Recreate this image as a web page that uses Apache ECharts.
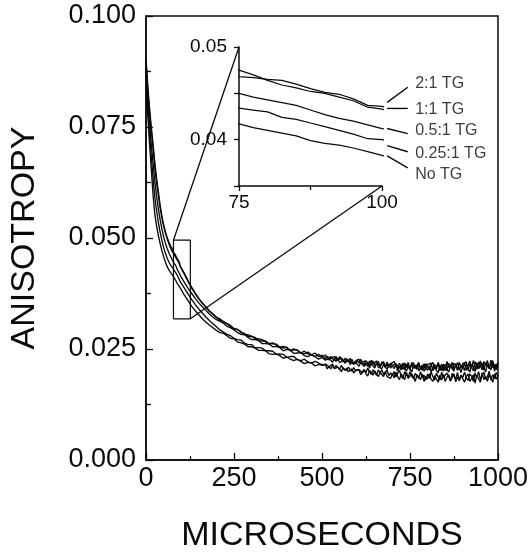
<!DOCTYPE html>
<html><head><meta charset="utf-8">
<script src="https://cdn.jsdelivr.net/npm/echarts@6/dist/echarts.min.js"></script>
<style>html,body{margin:0;padding:0;background:#fff}#c{width:531px;height:558px}</style>
</head><body><div id="c"></div>
<script>
// sampling times (microseconds)
const time = [0,2,4,6,8,10,15,20,25,30,35,40,45,50,55,60,65,70,75,
  77.5,80,82.5,85,87.5,90,92.5,95,97.5,100,
  110,120,130,140,150,160,170,180,190,200,
  210,220,230,240,250,260,270,280,290,300,
  310,320,330,340,350,360,370,380,390,400,
  410,420,430,440,450,460,470,480,490,500,
  505,510,515,520,525,530,535,540,545,550,555,560,565,570,575,580,585,590,595,600,
  605,610,615,620,625,630,635,640,645,650,655,660,665,670,675,680,685,690,695,700,
  705,710,715,720,725,730,735,740,745,750,755,760,765,770,775,780,785,790,795,800,
  805,810,815,820,825,830,835,840,845,850,855,860,865,870,875,880,885,890,895,900,
  905,910,915,920,925,930,935,940,945,950,955,960,965,970,975,980,985,990,995,1000];

const tg2_1 = [.0905,.0878,.0855,.0833,.0812,.0793,.0750,.0712,.0670,.0635,.0605,.0575,.0550,.0530,.0513,.0499,.0487,.0477,.0468,
  .0467,.0465,.0464,.0460,.0455,.0451,.0449,.0444,.0437,.0436,
  .0419,.0403,.0389,.0376,.0364,.0354,.0345,.0336,.0329,.0322,
  .0318,.0311,.0307,.0303,.0296,.0294,.0289,.0283,.0282,.0279,
  .0273,.0273,.0271,.0266,.0262,.0264,.0259,.0254,.0256,.0253,
  .0247,.0250,.0247,.0241,.0245,.0239,.0237,.0241,.0233,.0236,
  .0236,.0228,.0233,.0236,.0229,.0225,.0233,.0230,.0225,.0233,.0226,.0221,.0229,.0227,.0221,.0229,.0220,.0224,.0217,.0225,
  .0218,.0227,.0220,.0214,.0224,.0220,.0213,.0225,.0216,.0214,.0223,.0217,.0209,.0221,.0219,.0211,.0221,.0209,.0216,.0213,
  .0222,.0211,.0206,.0218,.0214,.0204,.0219,.0208,.0220,.0206,.0214,.0219,.0207,.0209,.0220,.0204,.0214,.0206,.0217,.0210,
  .0203,.0215,.0220,.0205,.0210,.0218,.0201,.0216,.0213,.0202,.0222,.0208,.0215,.0205,.0218,.0213,.0203,.0220,.0209,.0217,
  .0214,.0221,.0202,.0216,.0207,.0224,.0211,.0204,.0221,.0218,.0203,.0222,.0213,.0224,.0208,.0212,.0224,.0207,.0216,.0211];

const tg1_1 = [.0900,.0872,.0847,.0825,.0804,.0785,.0742,.0703,.0660,.0626,.0597,.0569,.0546,.0528,.0513,.0501,.0491,.0482,.0475,
  .0470,.0464,.0459,.0456,.0452,.0450,.0446,.0442,.0435,.0433,
  .0417,.0401,.0387,.0374,.0363,.0353,.0344,.0335,.0328,.0321,
  .0315,.0312,.0307,.0300,.0296,.0294,.0287,.0285,.0278,.0278,
  .0276,.0269,.0268,.0268,.0261,.0262,.0261,.0254,.0252,.0254,
  .0246,.0248,.0248,.0241,.0239,.0243,.0237,.0233,.0238,.0232,
  .0229,.0236,.0230,.0225,.0233,.0230,.0224,.0233,.0225,.0224,.0230,.0225,.0220,.0228,.0226,.0220,.0227,.0217,.0223,.0220,
  .0227,.0218,.0214,.0223,.0220,.0211,.0223,.0214,.0223,.0212,.0217,.0222,.0211,.0214,.0222,.0208,.0216,.0210,.0218,.0212,
  .0206,.0217,.0220,.0207,.0211,.0218,.0203,.0216,.0213,.0203,.0220,.0207,.0214,.0204,.0215,.0211,.0202,.0217,.0207,.0215,
  .0212,.0218,.0201,.0213,.0205,.0220,.0208,.0202,.0216,.0214,.0201,.0218,.0210,.0220,.0205,.0208,.0219,.0204,.0212,.0207,
  .0218,.0202,.0213,.0223,.0208,.0201,.0221,.0213,.0206,.0223,.0211,.0203,.0219,.0216,.0206,.0225,.0208,.0216,.0203,.0221];

const tg05_1 = [.0895,.0860,.0830,.0804,.0780,.0758,.0711,.0670,.0628,.0595,.0567,.0542,.0521,.0503,.0489,.0477,.0467,.0458,.0450,
  .0446,.0443,.0440,.0437,.0432,.0427,.0423,.0420,.0416,.0412,
  .0399,.0386,.0375,.0364,.0354,.0345,.0337,.0329,.0322,.0316,
  .0312,.0308,.0301,.0298,.0293,.0287,.0283,.0282,.0276,.0271,
  .0271,.0269,.0262,.0262,.0261,.0255,.0256,.0253,.0246,.0249,
  .0247,.0240,.0241,.0242,.0235,.0233,.0237,.0233,.0227,.0231,
  .0233,.0225,.0223,.0229,.0227,.0220,.0228,.0222,.0228,.0219,.0223,.0225,.0218,.0219,.0225,.0215,.0220,.0215,.0221,.0216,
  .0211,.0219,.0222,.0211,.0214,.0219,.0207,.0217,.0214,.0207,.0219,.0209,.0213,.0206,.0215,.0211,.0204,.0216,.0207,.0213,
  .0211,.0216,.0200,.0211,.0203,.0217,.0206,.0200,.0212,.0211,.0198,.0213,.0206,.0214,.0201,.0203,.0213,.0200,.0207,.0202,
  .0212,.0198,.0208,.0216,.0202,.0196,.0214,.0207,.0200,.0215,.0205,.0198,.0212,.0210,.0200,.0217,.0202,.0209,.0197,.0213,
  .0201,.0217,.0206,.0198,.0215,.0210,.0199,.0219,.0206,.0202,.0218,.0209,.0198,.0217,.0214,.0203,.0220,.0200,.0213,.0208];

const tg025_1 = [.0890,.0848,.0812,.0784,.0759,.0736,.0684,.0636,.0592,.0562,.0536,.0514,.0495,.0479,.0466,.0455,.0446,.0439,.0434,
  .0432,.0430,.0424,.0422,.0418,.0414,.0410,.0406,.0401,.0400,
  .0386,.0373,.0361,.0350,.0340,.0331,.0322,.0314,.0307,.0300,
  .0293,.0288,.0283,.0280,.0274,.0271,.0270,.0263,.0260,.0260,
  .0253,.0253,.0252,.0246,.0246,.0245,.0238,.0239,.0238,.0231,
  .0233,.0233,.0226,.0224,.0227,.0221,.0218,.0222,.0219,.0213,
  .0211,.0216,.0219,.0210,.0211,.0216,.0206,.0213,.0211,.0204,.0213,.0206,.0209,.0202,.0209,.0206,.0200,.0208,.0202,.0206,
  .0204,.0208,.0196,.0203,.0197,.0207,.0199,.0193,.0203,.0202,.0191,.0203,.0196,.0203,.0193,.0194,.0202,.0190,.0196,.0191,
  .0199,.0187,.0195,.0202,.0189,.0183,.0199,.0193,.0186,.0199,.0189,.0183,.0195,.0193,.0184,.0199,.0185,.0191,.0180,.0194,
  .0184,.0198,.0188,.0180,.0195,.0191,.0180,.0198,.0185,.0182,.0196,.0188,.0178,.0195,.0192,.0182,.0197,.0179,.0191,.0186,
  .0198,.0185,.0179,.0194,.0189,.0177,.0196,.0185,.0199,.0181,.0191,.0198,.0182,.0187,.0200,.0180,.0192,.0183,.0197,.0188];

const noTG = [.0885,.0835,.0795,.0765,.0738,.0713,.0655,.0598,.0553,.0528,.0506,.0488,.0472,.0458,.0446,.0436,.0428,.0422,.0417,
  .0413,.0410,.0407,.0404,.0399,.0396,.0394,.0391,.0387,.0383,
  .0370,.0358,.0346,.0336,.0327,.0318,.0311,.0304,.0298,.0292,
  .0287,.0285,.0280,.0274,.0273,.0266,.0264,.0261,.0255,.0255,
  .0252,.0247,.0247,.0246,.0239,.0238,.0239,.0235,.0229,.0232,
  .0227,.0224,.0227,.0222,.0217,.0220,.0219,.0212,.0215,.0215,
  .0212,.0214,.0205,.0211,.0205,.0213,.0206,.0202,.0209,.0207,.0199,.0208,.0202,.0207,.0199,.0199,.0205,.0196,.0201,.0197,
  .0203,.0192,.0199,.0204,.0194,.0189,.0202,.0196,.0191,.0201,.0193,.0188,.0197,.0195,.0188,.0199,.0188,.0192,.0184,.0194,
  .0185,.0198,.0188,.0181,.0194,.0190,.0181,.0197,.0184,.0182,.0194,.0187,.0177,.0192,.0190,.0181,.0194,.0177,.0188,.0183,
  .0194,.0182,.0177,.0190,.0186,.0175,.0191,.0180,.0193,.0177,.0186,.0192,.0178,.0182,.0194,.0176,.0187,.0179,.0191,.0183,
  .0175,.0188,.0194,.0177,.0183,.0192,.0173,.0191,.0187,.0175,.0196,.0181,.0188,.0177,.0192,.0186,.0175,.0194,.0182,.0191];

const seriesNames = ['2:1 TG', '1:1 TG', '0.5:1 TG', '0.25:1 TG', 'No TG'];
const seriesValues = [tg2_1, tg1_1, tg05_1, tg025_1, noTG];

// main axes
const mainX = {min: 0, max: 1000, interval: 250};
const mainY = {min: 0, max: 0.1, interval: 0.025};
// inset axes
const insetX = {min: 75, max: 100, interval: 25};
const insetY = {min: 0.035, max: 0.05, interval: 0.005};
const insetYLabels = [0.04, 0.05];
// zoom rectangle on the main plot (data units)
const zoomBox = {x0: 78, x1: 126, y0: 0.0318, y1: 0.0495};
// label leaders in inset data units: [start, end] and label anchors
const leaders = [
  [[100.9, 0.04402], [104.5, 0.04565]],
  [[100.9, 0.04337], [104.5, 0.04337]],
  [[100.9, 0.0412], [104.5, 0.04065]],
  [[100.9, 0.03935], [104.5, 0.0387]],
  [[100.9, 0.03826], [104.5, 0.03696]]
];
const labelAnchors = [[105.8, 0.0461], [105.8, 0.04326], [105.8, 0.0410], [105.8, 0.03848], [105.8, 0.0362]];

const FONT = 'Liberation Sans, Arial, Helvetica, sans-serif';
const INK = '#0a0a0a';
const chart = echarts.init(document.getElementById('c'), null, {renderer: 'canvas'});

const pairs = arr => time.map((t, i) => [t, arr[i]]);
const series = [];
seriesValues.forEach((vals, k) => {
  series.push({type: 'line', name: seriesNames[k], xAxisIndex: 0, yAxisIndex: 0, data: pairs(vals),
    showSymbol: false, symbol: 'none', lineStyle: {color: INK, width: 1.35}, animation: false});
  series.push({type: 'line', name: seriesNames[k] + ' inset', xAxisIndex: 1, yAxisIndex: 1, data: pairs(vals),
    showSymbol: false, symbol: 'none', clip: true, lineStyle: {color: INK, width: 1.25}, animation: false});
});
series.push({type: 'line', xAxisIndex: 0, yAxisIndex: 0, symbol: 'none', animation: false,
  data: [[zoomBox.x0, zoomBox.y0], [zoomBox.x1, zoomBox.y0], [zoomBox.x1, zoomBox.y1], [zoomBox.x0, zoomBox.y1], [zoomBox.x0, zoomBox.y0]],
  lineStyle: {color: INK, width: 1.2}});
series.push({type: 'scatter', xAxisIndex: 1, yAxisIndex: 1, symbolSize: 0, clip: false, animation: false,
  data: labelAnchors.map((p, i) => ({value: p, name: seriesNames[i]})),
  label: {show: true, position: 'right', distance: 0, formatter: p => p.name, color: INK,
    fontFamily: FONT, fontSize: 16}});

const axisCommon = {
  splitLine: {show: false},
  axisLine: {show: true, onZero: false, lineStyle: {color: INK, width: 1.5}},
};

chart.setOption({
  backgroundColor: '#fff',
  animation: false,
  grid: [
    {left: 141, top: 16, right: 32, bottom: 86, show: true, borderColor: INK, borderWidth: 1.5, containLabel: false},
    {left: 239, top: 47, width: 143, height: 139, containLabel: false}
  ],
  xAxis: [
    Object.assign({}, axisCommon, {gridIndex: 0, type: 'value', min: mainX.min, max: mainX.max, interval: mainX.interval,
      axisTick: {inside: true, length: 7, lineStyle: {color: INK, width: 1.3}},
      minorTick: {show: true, splitNumber: 2, length: 4, lineStyle: {color: INK, width: 1.3}},
      axisLabel: {fontSize: 27, color: INK, fontFamily: FONT, margin: 5, formatter: v => String(v)},
      name: 'MICROSECONDS', nameLocation: 'middle', nameGap: 59,
      nameTextStyle: {fontSize: 34, color: INK, fontFamily: FONT}}),
    Object.assign({}, axisCommon, {gridIndex: 1, type: 'value', min: insetX.min, max: insetX.max, interval: insetX.interval,
      axisTick: {inside: false, length: 5, lineStyle: {color: INK, width: 1.3}},
      minorTick: {show: true, splitNumber: 2, length: 4, lineStyle: {color: INK, width: 1.3}},
      axisLabel: {fontSize: 19, color: INK, fontFamily: FONT, margin: 7, formatter: v => String(v)}})
  ],
  yAxis: [
    Object.assign({}, axisCommon, {gridIndex: 0, type: 'value', min: mainY.min, max: mainY.max, interval: mainY.interval,
      axisTick: {inside: true, length: 7, lineStyle: {color: INK, width: 1.3}},
      minorTick: {show: true, splitNumber: 2, length: 5, lineStyle: {color: INK, width: 1.3}},
      axisLabel: {fontSize: 27, color: INK, fontFamily: FONT, margin: 10, formatter: v => v.toFixed(3)},
      name: 'ANISOTROPY', nameLocation: 'middle', nameGap: 104,
      nameTextStyle: {fontSize: 34, color: INK, fontFamily: FONT}}),
    Object.assign({}, axisCommon, {gridIndex: 1, type: 'value', min: insetY.min, max: insetY.max, interval: insetY.interval,
      axisTick: {inside: false, length: 5, lineStyle: {color: INK, width: 1.3}},
      axisLabel: {fontSize: 19, color: INK, fontFamily: FONT, margin: 12,
        formatter: v => insetYLabels.some(t => Math.abs(t - v) < 1e-9) ? v.toFixed(2) : ''}})
  ],
  series: series
});

// connector lines (zoom box -> inset) and label leaders, placed through the axes' own scales
const px0 = p => chart.convertToPixel({gridIndex: 0}, p);
const px1 = p => chart.convertToPixel({gridIndex: 1}, p);
const seg = (a, b, w) => ({type: 'line', shape: {x1: a[0], y1: a[1], x2: b[0], y2: b[1]},
  style: {stroke: INK, lineWidth: w}, z: 10});
const graphics = [
  seg(px0([zoomBox.x0, zoomBox.y1]), px1([insetX.min, insetY.max]), 1.3),
  seg(px0([zoomBox.x1, zoomBox.y0]), px1([insetX.max, insetY.min]), 1.3)
];
leaders.forEach(l => graphics.push(seg(px1(l[0]), px1(l[1]), 1.4)));
chart.setOption({graphic: graphics});
</script></body></html>
